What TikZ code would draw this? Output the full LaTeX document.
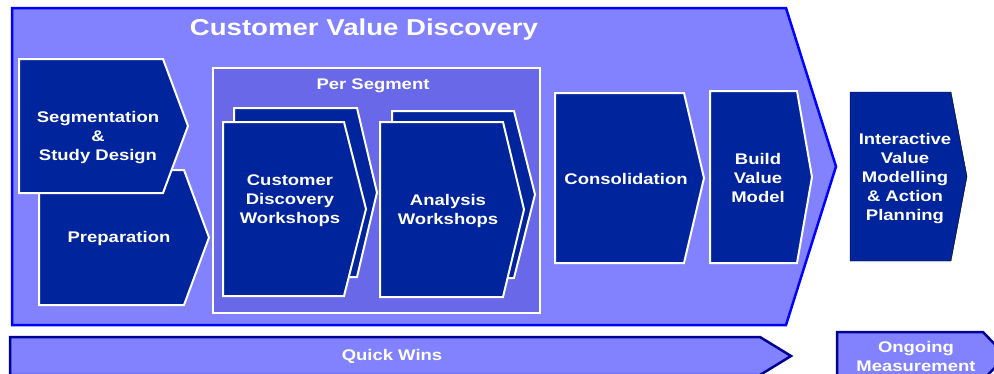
\documentclass[tikz,border=0pt]{standalone}
\usepackage{fontspec}
\setmainfont{Liberation Sans}[FakeStretch=1.2]
\usepackage{xcolor}
\definecolor{phaselight}{RGB}{130,130,255}
\definecolor{segfill}{RGB}{104,104,232}
\definecolor{stepblue}{RGB}{0,36,156}
\definecolor{rimblue}{RGB}{0,0,255}
\definecolor{navyrim}{RGB}{0,0,150}

% pentagon arrow: style, left, top, shoulder, tip, bottom
\newcommand{\chevron}[6]{%
  \draw[#1] (#2,#3) -- (#4,#3) -- (#5,{(#3+#6)/2}) -- (#4,#6) -- (#2,#6) -- cycle;}

\begin{document}
\begin{tikzpicture}[
        x=1pt, y=-1pt,
        phase/.style={draw=rimblue, line width=2.5pt, fill=phaselight},
        track/.style={draw=navyrim, line width=2.5pt, fill=phaselight},
        stepbox/.style={draw=white, line width=2pt, fill=stepblue},
        steptext/.style={text=white, inner sep=0pt, align=center,
            font=\bfseries\fontsize{15.4}{19}\selectfont}
    ]
        \useasboundingbox (0,0) rectangle (994,373);

        % Outer phase
        \chevron{phase}{12}{8}{786}{836}{325}
        \node[steptext, font=\bfseries\fontsize{23}{27}\selectfont] (title) at (364,30) {Customer Value Discovery};

        % Per segment block
        \draw[draw=white, line width=2pt, fill=segfill] (213,68) rectangle (540,313);
        \node[steptext] (perseg) at (373,86) {Per Segment};

        % Steps
        \chevron{stepbox}{39}{170}{184}{209}{305}
        \chevron{stepbox}{19}{59}{163}{188}{193}
        \chevron{stepbox}{234}{108}{357}{377}{277}
        \chevron{stepbox}{223}{122}{344}{366}{296}
        \chevron{stepbox}{392}{111}{514}{535}{278}
        \chevron{stepbox}{380}{122}{503}{524}{297}
        \chevron{stepbox}{555}{93}{684}{704}{263}
        \chevron{stepbox}{710}{91}{797}{812}{263}
        \chevron{fill=stepblue}{850}{92}{951}{967}{261}

        \node[steptext] (seg) at (98,138) {Segmentation\\\&\\Study Design};
        \node[steptext] (prep) at (119,239) {Preparation};
        \node[steptext] (cdw) at (290,201) {Customer\\Discovery\\Workshops};
        \node[steptext] (aw) at (448,211) {Analysis\\Workshops};
        \node[steptext] (cons) at (626,179) {Consolidation};
        \node[steptext] (bvm) at (758,178) {Build\\Value\\Model};
        \node[steptext] (ivm) at (905,179) {Interactive\\Value\\Modelling\\\& Action\\Planning};

        % Bottom tracks
        \chevron{track}{10}{337}{760}{791}{375}
        \chevron{track}{837}{332}{983}{1006}{380}
        \node[steptext] (qw) at (392,356) {Quick Wins};
        \node[steptext] (om) at (916,356) {Ongoing\\Measurement};
    \end{tikzpicture}
\end{document}
